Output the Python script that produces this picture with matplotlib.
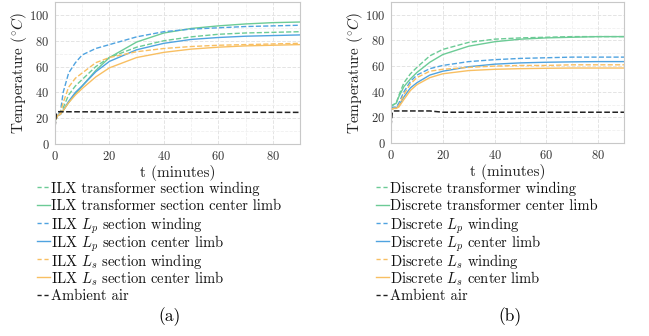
import matplotlib
matplotlib.use('Agg')
import matplotlib.pyplot as plt
from matplotlib.lines import Line2D
from matplotlib.ticker import MultipleLocator

plt.rcParams['font.family'] = 'serif'
plt.rcParams['font.serif'] = ['cmr10']
plt.rcParams['mathtext.fontset'] = 'cm'
plt.rcParams['axes.formatter.use_mathtext'] = True
plt.rcParams['font.size'] = 11

## Data
t = [0, 1, 2, 3, 5, 7.5, 10, 15, 20, 30, 40, 50, 60, 70, 80, 90]
t_amb_a = [0, 0.5, 1, 30, 60, 90]
t_amb_b = [0, 0.5, 1, 15, 20, 40, 90]

# (a) ILX
ilx_tr_wind = [18, 22, 24, 28, 38, 45, 50, 60, 67, 75, 80, 83, 85, 86, 86.5, 87]
ilx_tr_limb = [18, 22, 23, 26, 32, 39, 45, 57, 67, 79, 86, 89.5, 91.5, 93, 94, 94.5]
ilx_lp_wind = [18, 22, 25, 40, 55, 63, 69, 74, 77, 83, 87, 89, 90, 91, 91.5, 92]
ilx_lp_limb = [18, 22, 23, 26, 33, 40, 45, 56, 64, 73, 78, 81, 82.5, 83.5, 84, 84.5]
ilx_ls_wind = [18, 22, 24, 32, 44, 51, 55, 63, 67, 71.5, 74, 75.5, 76.5, 77, 77.5, 78]
ilx_ls_limb = [18, 22, 23, 26, 32, 38, 43, 52, 59, 67, 71, 73.5, 75, 76, 76.5, 77]
ilx_amb = [13, 23, 25, 24.8, 24.6, 24.5]

# (b) Discrete
dis_tr_wind = [28, 30, 31, 37, 47, 54, 59, 68, 73, 78.5, 81, 82, 82.5, 83, 83, 83]
dis_tr_limb = [29, 30, 31, 36, 44, 50, 55, 63, 69, 75.5, 79, 81, 82, 82.5, 83, 83]
dis_lp_wind = [27, 28, 28, 31, 40, 48, 53, 58, 60.5, 63.5, 65, 66, 66.5, 67, 67, 67]
dis_lp_limb = [26, 27, 27.5, 29, 36, 43, 47, 53, 56, 59.5, 61.5, 62.5, 63, 63.3, 63.5, 63.5]
dis_ls_wind = [26, 27, 27, 29, 38, 46, 51, 56, 57.5, 59, 60, 60.5, 60.5, 61, 61, 61]
dis_ls_limb = [26, 27, 27, 28, 34, 41, 45.5, 51, 54, 56.5, 57.5, 58, 58.3, 58.5, 58.5, 58.5]
dis_amb = [13, 24, 25, 25, 24, 24, 24]

green = '#6ccb96'
blue = '#4fa3e0'
orange = '#f8bf62'

series_a = [
    (ilx_tr_wind, green, '--', 'ILX transformer section winding'),
    (ilx_tr_limb, green, '-', 'ILX transformer section center limb'),
    (ilx_lp_wind, blue, '--', 'ILX $L_p$ section winding'),
    (ilx_lp_limb, blue, '-', 'ILX $L_p$ section center limb'),
    (ilx_ls_wind, orange, '--', 'ILX $L_s$ section winding'),
    (ilx_ls_limb, orange, '-', 'ILX $L_s$ section center limb'),
]
series_b = [
    (dis_tr_wind, green, '--', 'Discrete transformer winding'),
    (dis_tr_limb, green, '-', 'Discrete transformer center limb'),
    (dis_lp_wind, blue, '--', 'Discrete $L_p$ winding'),
    (dis_lp_limb, blue, '-', 'Discrete $L_p$ center limb'),
    (dis_ls_wind, orange, '--', 'Discrete $L_s$ winding'),
    (dis_ls_limb, orange, '-', 'Discrete $L_s$ center limb'),
]

W, H = 649, 336
fig = plt.figure(figsize=(6.49, 3.36), dpi=100)
ax_a = fig.add_axes([55 / W, 1 - 144 / H, 245 / W, 142 / H])
ax_b = fig.add_axes([391 / W, 1 - 143 / H, 233 / W, 141 / H])


def style(ax):
    ax.set_xlim(0, 90)
    ax.set_ylim(0, 110)
    ax.xaxis.set_major_locator(MultipleLocator(20))
    ax.yaxis.set_major_locator(MultipleLocator(20))
    ax.xaxis.set_minor_locator(MultipleLocator(10))
    ax.yaxis.set_minor_locator(MultipleLocator(10))
    ax.grid(True, which='major', color='#e4e4e4', lw=0.7, ls='--')
    ax.grid(True, which='minor', color='#f0f0f0', lw=0.6, ls='--')
    ax.tick_params(which='both', length=0, colors='#333333', labelsize=9, pad=4)
    for s in ax.spines.values():
        s.set_color('#c8c8c8')
        s.set_linewidth(0.8)
    ax.set_xlabel('t (minutes)', labelpad=2, color='#222222', fontsize=11)
    ax.set_ylabel(r'Temperature ($^{\circ}C$)', labelpad=0, color='#222222', fontsize=11)


def legend_rows(handles, x0, y0):
    # manual legend so that every row is 18 px apart
    for i, h in enumerate(handles):
        y = 1 - (y0 + 18 * i) / H
        fig.add_artist(Line2D([x0 / W, (x0 + 13) / W], [y, y], transform=fig.transFigure,
                              color=h.get_color(), ls=h.get_linestyle(), lw=1.0,
                              dashes=(3, 2) if h.get_linestyle() == '--' else (None, None)))
        fig.text((x0 + 14) / W, y, h.get_label(), ha='left', va='center_baseline',
                 fontsize=10.5, color='#111111')


for ax, series, t_amb, amb, x0, cap, capx in [
        (ax_a, series_a, t_amb_a, ilx_amb, 37, '(a)', 170),
        (ax_b, series_b, t_amb_b, dis_amb, 376, '(b)', 510)]:
    for y, c, ls, lab in series:
        ax.plot(t, y, color=c, ls=ls, lw=1.0, label=lab)
    ax.plot(t_amb, amb, color='#222222', ls='--', lw=1.1, label='Ambient air')
    style(ax)
    legend_rows(ax.get_lines(), x0, 187)
    fig.text(capx / W, 1 - 317 / H, cap, ha='center', va='center', fontsize=12.5)

fig.savefig('out.png', dpi=100)
